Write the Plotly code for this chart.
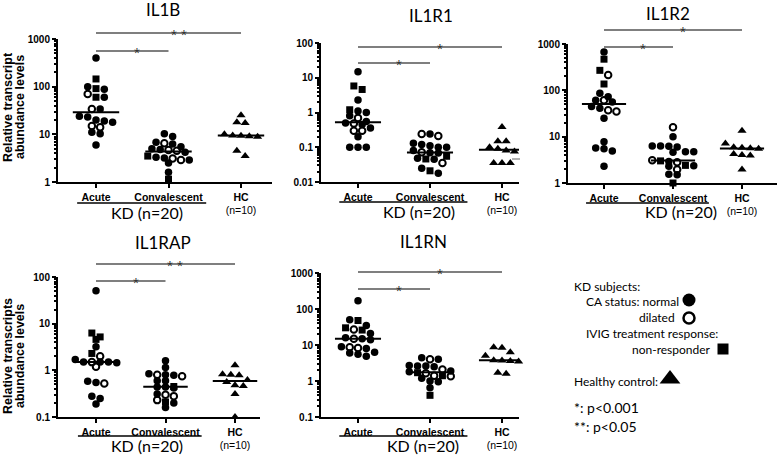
import numpy as np
import plotly.graph_objects as go

W, H = 778, 456

groups = ["Acute", "Convalescent", "HC"]
group_ticks = ["<b>Acute</b>", "<b>Convalescent</b>", "<b>HC</b><br>(n=10)"]
genes = ["IL1B", "IL1R1", "IL1R2", "IL1RAP", "IL1RN"]

# KD subject type: n = normal CA, d = dilated CA, s = IVIG non-responder
il1b_acute = [400, 145, 100, 91, 88, 70, 60, 60, 34, 34, 24, 23, 20, 19, 18, 15, 14, 11, 10.3, 6]
il1b_acute_type = ["n", "s", "n", "s", "n", "d", "s", "n", "d", "n", "n", "n", "n", "n", "n", "d", "d", "n", "n", "n"]
il1b_conv = [10.3, 9, 6.8, 6.5, 6.3, 5.5, 5, 4.8, 4.7, 4.5, 4.2, 3.5, 3.3, 3.2, 3.1, 2.9, 2.9, 2.5, 1.6, 1.15]
il1b_conv_type = ["n", "n", "n", "d", "n", "n", "n", "n", "d", "d", "n", "s", "n", "n", "d", "d", "n", "n", "n", "s"]
il1b_hc = [25, 18, 17.3, 10, 9.5, 9.3, 9.1, 8.9, 4.5, 3.5]

il1r1_acute = [14.8, 5.8, 4.6, 2.3, 1.2, 1.1, 1.0, 0.8, 0.7, 0.55, 0.5, 0.48, 0.45, 0.36, 0.3, 0.3, 0.2, 0.1, 0.1, 0.1]
il1r1_acute_type = ["n", "s", "s", "n", "s", "n", "n", "n", "d", "n", "n", "d", "n", "n", "d", "d", "n", "n", "n", "n"]
il1r1_conv = [0.24, 0.21, 0.24, 0.13, 0.12, 0.11, 0.1, 0.1, 0.08, 0.072, 0.07, 0.068, 0.055, 0.048, 0.046, 0.045, 0.035, 0.025, 0.021, 0.018]
il1r1_conv_type = ["d", "d", "n", "n", "n", "n", "n", "n", "n", "d", "n", "n", "s", "n", "s", "n", "d", "n", "s", "n"]
il1r1_hc = [0.38, 0.15, 0.15, 0.1, 0.09, 0.08, 0.075, 0.035, 0.035, 0.035]

il1r2_acute = [670, 470, 270, 215, 137, 87, 73, 61, 61, 56, 45, 41, 37, 35, 25, 7.8, 5.7, 5.5, 4.9, 2.3]
il1r2_acute_type = ["n", "s", "s", "d", "s", "n", "n", "n", "d", "n", "n", "n", "d", "d", "n", "n", "n", "n", "n", "n"]
il1r2_conv = [16, 10, 6.3, 6.3, 6.2, 6.0, 4.7, 4.7, 4.6, 3.1, 3.0, 2.9, 2.8, 2.4, 2.35, 2.3, 1.95, 1.55, 1.5, 1.0]
il1r2_conv_type = ["d", "n", "n", "n", "n", "n", "n", "n", "n", "d", "s", "n", "d", "s", "n", "n", "d", "n", "n", "s"]
il1r2_hc = [13.4, 7.1, 5.9, 5.8, 5.6, 5.5, 4.2, 4.0, 3.9, 1.95]

il1rap_acute = [51, 6.3, 5.2, 4.6, 3.2, 2.3, 2.0, 1.7, 1.5, 1.5, 1.5, 1.5, 1.45, 1.2, 0.58, 0.55, 0.52, 0.28, 0.25, 0.19]
il1rap_acute_type = ["n", "s", "s", "s", "n", "s", "d", "n", "n", "d", "n", "n", "n", "d", "n", "n", "d", "n", "n", "n"]
il1rap_conv = [1.6, 1.15, 0.85, 0.8, 0.75, 0.8, 0.78, 0.6, 0.6, 0.45, 0.44, 0.44, 0.42, 0.31, 0.3, 0.28, 0.23, 0.21, 0.2, 0.16]
il1rap_conv_type = ["n", "n", "n", "d", "d", "n", "n", "n", "n", "s", "n", "n", "n", "n", "d", "d", "d", "s", "n", "n"]
il1rap_hc = [1.28, 0.82, 0.8, 0.78, 0.62, 0.56, 0.48, 0.46, 0.31, 0.1]

il1rn_acute = [170, 50, 48, 35, 30, 27, 26, 21, 16, 15, 15, 14, 9, 8.7, 8.3, 8, 6.3, 6, 5.5, 4.9]
il1rn_acute_type = ["n", "n", "s", "n", "s", "d", "s", "n", "n", "d", "n", "n", "n", "d", "d", "n", "n", "n", "n", "n"]
il1rn_conv = [4.4, 4.0, 4.0, 2.7, 2.6, 2.6, 2.5, 2.1, 1.9, 1.8, 1.7, 1.65, 1.4, 1.35, 1.4, 1.2, 1.0, 0.95, 0.65, 0.4]
il1rn_conv_type = ["n", "d", "n", "n", "n", "n", "n", "d", "n", "n", "s", "d", "d", "d", "s", "n", "n", "n", "n", "s"]
il1rn_hc = [8.7, 8.4, 6.3, 5.0, 3.8, 3.7, 3.6, 3.5, 1.7, 1.6]

sig_conv = ["*", "*", "*", "*", "*"]
sig_hc = ["* *", "*", "*", "* *", "*"]

data = [
    (il1b_acute, il1b_acute_type, il1b_conv, il1b_conv_type, il1b_hc),
    (il1r1_acute, il1r1_acute_type, il1r1_conv, il1r1_conv_type, il1r1_hc),
    (il1r2_acute, il1r2_acute_type, il1r2_conv, il1r2_conv_type, il1r2_hc),
    (il1rap_acute, il1rap_acute_type, il1rap_conv, il1rap_conv_type, il1rap_hc),
    (il1rn_acute, il1rn_acute_type, il1rn_conv, il1rn_conv_type, il1rn_hc),
]

# layout in pixels: plot box (l, t, r, b), log range, acute x, category step,
# title pos, bar heights, KD line y, KD text (x, y)
panels = [
    dict(box=(58, 39, 272, 182), yr=(0, 3), ax=96, step=72.5, title=(163, 9), bars=(51, 33), kd=203, kdt=(147, 212)),
    dict(box=(321, 43, 519, 182), yr=(-2, 2), ax=358, step=72, title=(431, 15), bars=(63, 47), kd=202, kdt=(419, 211)),
    dict(box=(568, 44, 777, 183), yr=(0, 3), ax=604, step=69, title=(668, 13), bars=(47, 30), kd=203, kdt=(681, 211)),
    dict(box=(58, 277, 260, 417), yr=(-1, 2), ax=96, step=69.5, title=(163, 242), bars=(281, 264), kd=436, kdt=(147, 445)),
    dict(box=(321, 273, 519, 417), yr=(-1, 3), ax=358, step=72, title=(423, 241), bars=(289, 272), kd=436, kdt=(423, 445)),
]

def fx(p):
    return p / W

def fy(p):
    return 1 - p / H

def swarm(vals, dec_px, step_px, gap=8.3, row_h=6.0):
    ypx = np.log10(np.asarray(vals, float)) * dec_px
    order = np.argsort(-ypx, kind="stable")
    offs = np.zeros(len(vals))
    rows, cur = [], []
    for i in order:
        if cur and ypx[cur[0]] - ypx[i] > row_h:
            rows.append(cur)
            cur = []
        cur.append(i)
    rows.append(cur)
    for r in rows:
        n = len(r)
        for k, i in enumerate(r):
            offs[i] = (k - (n - 1) / 2) * gap / step_px
    return offs

sym = {"n": "circle", "d": "circle-open", "s": "square", "h": "triangle-up"}
size = {"n": 7.5, "d": 6.5, "s": 7, "h": 8}
lw = {"n": 0, "d": 2, "s": 0, "h": 0}

AX_FONT = "Liberation Sans"
TXT_FONT = "Lato"

fig = go.Figure()
shapes = []
annotations = []
lay = {}

for i, (gene, p, d) in enumerate(zip(genes, panels, data), start=1):
    xa = "x" if i == 1 else f"x{i}"
    ya = "y" if i == 1 else f"y{i}"
    l, t, r, b = p["box"]
    y0, y1 = p["yr"]
    dec_px = (b - t) / (y1 - y0)
    xr = [(l - p["ax"]) / p["step"], (r - p["ax"]) / p["step"]]

    acute, acute_t, conv, conv_t, hc = d
    for g, (vals, types) in enumerate([(acute, acute_t), (conv, conv_t), (hc, ["h"] * len(hc))]):
        offs = swarm(vals, dec_px, p["step"])
        fig.add_trace(go.Scatter(
            x=(g + offs).tolist(), y=list(vals), mode="markers", xaxis=xa, yaxis=ya, cliponaxis=False,
            marker=dict(symbol=[sym[s] for s in types], size=[size[s] for s in types], opacity=1,
                        color="#000000", line=dict(color="#000000", width=[lw[s] for s in types])),
            showlegend=False, hoverinfo="y"))
        med = float(np.median(vals))
        fig.add_trace(go.Scatter(
            x=[g - 0.32, g + 0.32], y=[med, med], mode="lines", xaxis=xa, yaxis=ya,
            line=dict(color="black", width=2), showlegend=False, hoverinfo="skip"))

    xkey = "xaxis" if i == 1 else f"xaxis{i}"
    ykey = "yaxis" if i == 1 else f"yaxis{i}"
    lay[xkey] = dict(domain=[fx(l), fx(r)], anchor=ya, range=xr, tickmode="array", tickvals=[0, 1, 2],
                     ticktext=group_ticks, showline=True, linecolor="black", linewidth=2,
                     ticks="outside", ticklen=4, tickwidth=1.5, tickcolor="black", showgrid=False,
                     zeroline=False, tickfont=dict(family=AX_FONT, size=10.5, color="black"))
    tv = [10.0 ** k for k in range(y0, y1 + 1)]
    mv = [m * 10.0 ** k for k in range(y0, y1) for m in range(2, 10)]
    lay[ykey] = dict(domain=[fy(b), fy(t)], anchor=xa, type="log", range=[y0, y1], tickmode="array",
                     tickvals=tv, ticktext=[f"<b>{v:g}</b>" for v in tv], showline=True,
                     linecolor="black", linewidth=2, ticks="outside", ticklen=4, tickwidth=1.5,
                     tickcolor="black",
                     minor=dict(ticks="outside", ticklen=2.5, tickcolor="black", tickmode="array", tickvals=mv),
                     showgrid=False, zeroline=False,
                     tickfont=dict(family=AX_FONT, size=10, color="black"))

    # significance bars
    for end, by, star in [(1, p["bars"][0], sig_conv[i - 1]), (2, p["bars"][1], sig_hc[i - 1])]:
        shapes.append(dict(type="line", xref=xa, yref="paper", x0=0, x1=end, y0=fy(by), y1=fy(by),
                           line=dict(color="#555", width=1.3)))
        annotations.append(dict(xref=xa, yref="paper", x=end * 0.57, y=fy(by + 1), text=star,
                                showarrow=False, xanchor="center", yanchor="middle",
                                font=dict(family=AX_FONT, size=15, color="#333")))

    # KD group line and label
    shapes.append(dict(type="line", xref=xa, yref="paper", x0=-0.26, x1=1.52, y0=fy(p["kd"]), y1=fy(p["kd"]),
                       line=dict(color="black", width=1.3)))
    annotations.append(dict(xref="paper", yref="paper", x=fx(p["kdt"][0]), y=fy(p["kdt"][1]),
                            text="KD (n=20)", showarrow=False, xanchor="center", yanchor="middle",
                            font=dict(family=TXT_FONT, size=16, color="black")))
    annotations.append(dict(xref="paper", yref="paper", x=fx(p["title"][0]), y=fy(p["title"][1]),
                            text=gene, showarrow=False, xanchor="center", yanchor="middle",
                            font=dict(family=TXT_FONT, size=17, color="black")))

# stray grey dash from the original figure
shapes.append(dict(type="line", xref="paper", yref="paper", x0=fx(512), x1=fx(520), y0=fy(159), y1=fy(159),
                   line=dict(color="#999", width=1.5)))

# y-axis titles
for (l1, cy) in [("Relative transcript", 107), ("Relative transcripts", 356)]:
    for txt, cx in [(l1, 8), ("abundance levels", 20)]:
        annotations.append(dict(xref="paper", yref="paper", x=fx(cx), y=fy(cy), text=f"<b>{txt}</b>",
                                textangle=-90, showarrow=False, xanchor="center", yanchor="middle",
                                font=dict(family=AX_FONT, size=12.5, color="black")))

# key
key_text = [
    ("KD subjects:", 572, 286, "left", 12),
    ("CA status: normal", 584, 301, "left", 12),
    ("dilated", 677, 317, "right", 12),
    ("IVIG treatment response:", 584, 333, "left", 12),
    ("non-responder", 713, 349, "right", 12),
    ("Healthy control:", 572, 381, "left", 12),
    ("*: p<0.001", 572, 407, "left", 14),
    ("**: p<0.05", 572, 426, "left", 14),
]
for txt, x, y, anc, fs in key_text:
    annotations.append(dict(xref="paper", yref="paper", x=fx(x), y=fy(y), text=txt, xanchor=anc,
                            yanchor="middle", showarrow=False,
                            font=dict(family=TXT_FONT, size=fs, color="black")))

fig.add_trace(go.Scatter(
    x=[689, 689, 723, 670], y=[300, 318, 349, 379], mode="markers", xaxis="x6", yaxis="y6",
    marker=dict(symbol=["circle", "circle-open", "square", "triangle-up"], size=[13, 11, 11, 18],
                opacity=1, color="#000000", line=dict(color="#000000", width=[0, 2.5, 0, 0])),
    showlegend=False, hoverinfo="skip"))
lay["xaxis6"] = dict(domain=[fx(560), 1], range=[560, W], visible=False, anchor="y6")
lay["yaxis6"] = dict(domain=[fy(456), fy(270)], range=[456, 270], visible=False, anchor="x6")

fig.update_layout(width=W, height=H, margin=dict(l=0, r=0, t=0, b=0, autoexpand=False),
                  plot_bgcolor="rgba(0,0,0,0)", paper_bgcolor="white", shapes=shapes,
                  annotations=annotations, **lay)
fig.write_html("out.html", config={"displayModeBar": False},
               post_script="document.body.style.margin='0';")
